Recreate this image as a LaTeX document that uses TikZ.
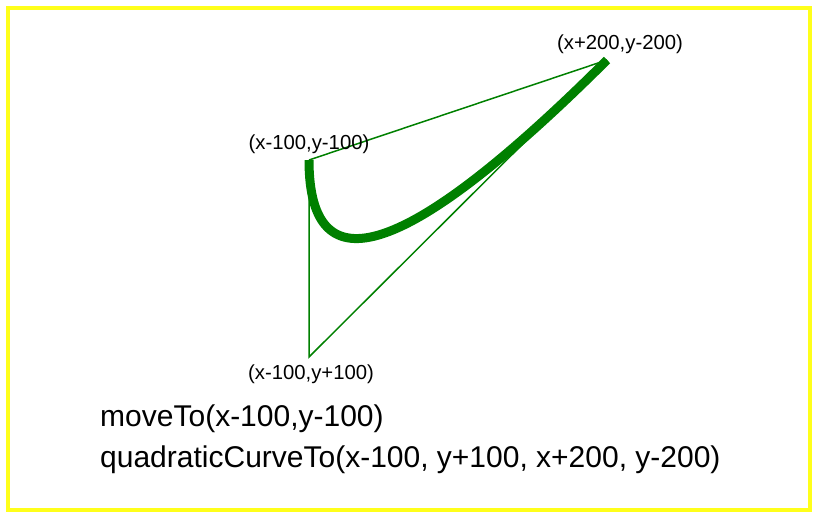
\documentclass[tikz,border=0pt]{standalone}
\usepackage{fontspec}
\setmainfont{Liberation Sans}
\usepackage{tikz}
\usetikzlibrary{calc,positioning}
\definecolor{curvec}{HTML}{008000}
\definecolor{framec}{HTML}{FFFF1A}
\tikzset{
  guide/.style={curvec,line width=1.5pt},
  curve/.style={curvec,line width=9pt},
  lbl/.style={inner sep=0pt,font=\fontsize{20.3}{24}\selectfont},
  code/.style={inner sep=0pt,anchor=west,font=\fontsize{30}{36}\selectfont}
}
\begin{document}
\begin{tikzpicture}[x=1pt,y=-1pt]
\useasboundingbox (0,0) rectangle (819,519);
\draw[framec,line width=4pt] (8,8) rectangle (810,510);
\coordinate (start) at (309,160);
\coordinate (ctrl) at (309,357);
\coordinate (end) at (607,60);
\draw[guide] (start) -- (end);
\draw[guide] (start) -- (ctrl) -- (end);
\draw[curve] (start) .. controls ($(start)!2/3!(ctrl)$) and ($(end)!2/3!(ctrl)$) .. (end);
\node[lbl,above=6pt of end,xshift=13pt] (endlbl) {(x+200,y-200)};
\node[lbl,above=6pt of start] (startlbl) {(x-100,y-100)};
\node[lbl,below=8pt of ctrl,xshift=2pt] (ctrllbl) {(x-100,y+100)};
\node[code] (move) at (100,419) {moveTo(x-100,y-100)};
\node[code] (quad) at (100,460) {quadraticCurveTo(x-100, y+100, x+200, y-200)};
\end{tikzpicture}
\end{document}
